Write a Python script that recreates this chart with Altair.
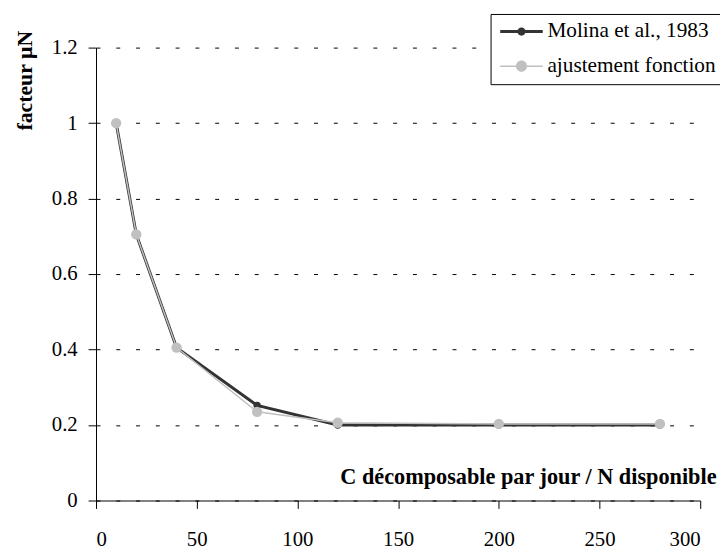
import altair as alt
import pandas as pd

# ---- data ----
x_vals = [10, 20, 40, 80, 120, 200, 280]
molina = [1.0, 0.705, 0.405, 0.252, 0.200, 0.200, 0.200]
fit = [1.0, 0.705, 0.405, 0.235, 0.206, 0.203, 0.203]
series_names = ["Molina et al., 1983", "ajustement fonction"]
series_colors = ["#333333", "#c0c0c0"]
x_ticks = [0, 50, 100, 150, 200, 250, 300]
y_ticks = [0, 0.2, 0.4, 0.6, 0.8, 1.0, 1.2]

rows = []
for xv, yv in zip(x_vals, molina):
    rows.append({"serie": series_names[0], "x": xv, "y": yv})
for xv, yv in zip(x_vals, fit):
    rows.append({"serie": series_names[1], "x": xv, "y": yv})
df = pd.DataFrame(rows)

FONT = "Liberation Serif"

# legend symbol: line segment with a dot, drawn as a filled path.
# symbolSize 400 -> 10 px per path unit, symbol slot centred at 10 px.
SYM_SIZE = 400


def legend_shape(line_half, dot_r):
    t = line_half
    r = dot_r
    a, b = -0.8, 3.5
    c = (a + b) / 2
    return (
        f"M{a},{-t}L{b},{-t}L{b},{t}L{a},{t}Z"
        f"M{c - r},0A{r},{r},0,1,1,{c + r},0A{r},{r},0,1,1,{c - r},0Z"
    )


shape_paths = [legend_shape(0.15, 0.42), legend_shape(0.075, 0.56)]

legend = alt.Legend(
    title=None,
    orient="none",
    legendX=399,
    legendY=-34,
    direction="vertical",
    fillColor="white",
    strokeColor="black",
    padding=7,
    labelFont=FONT,
    labelFontSize=21.5,
    labelColor="black",
    labelOffset=29,
    labelLimit=400,
    rowPadding=12,
    symbolSize=SYM_SIZE,
    symbolStrokeWidth=0,
    symbolOpacity=1,
)

color_leg = alt.Color(
    "serie:N",
    scale=alt.Scale(domain=series_names, range=series_colors),
    legend=legend,
)
shape_leg = alt.Shape(
    "serie:N",
    scale=alt.Scale(domain=series_names, range=shape_paths),
    legend=legend,
)
color_plain = alt.Color(
    "serie:N",
    scale=alt.Scale(domain=series_names, range=series_colors),
    legend=None,
)

x_enc = alt.X(
    "x:Q",
    scale=alt.Scale(domain=[0, 300], nice=False),
    axis=alt.Axis(
        values=x_ticks,
        grid=False,
        tickSize=8,
        labelPadding=21,
        labelFont=FONT,
        labelFontSize=21,
        labelColor="black",
        domainColor="black",
        tickColor="black",
        title="C décomposable par jour / N disponible",
        titleFont=FONT,
        titleFontSize=22.5,
        titleFontWeight="bold",
        titleColor="black",
        titleX=627,
        titleY=-17,
        titleAlign="right",
        titleBaseline="alphabetic",
    ),
)
y_enc = alt.Y(
    "y:Q",
    scale=alt.Scale(domain=[0, 1.2], nice=False),
    axis=alt.Axis(
        values=y_ticks,
        format=".1~f",
        grid=True,
        gridDash=[4, 16],
        gridColor="black",
        gridWidth=1,
        gridOpacity=1,
        tickSize=8,
        labelPadding=11,
        labelFont=FONT,
        labelFontSize=21,
        labelColor="black",
        domainColor="black",
        tickColor="black",
        title="facteur µN",
        titleFont=FONT,
        titleFontSize=22,
        titleFontWeight="bold",
        titleColor="black",
        titleAngle=270,
        titleX=-65,
        titleY=33,
        titleAlign="center",
        titleBaseline="alphabetic",
    ),
)

base = alt.Chart(df).encode(x=x_enc, y=y_enc, color=color_plain, order="x:Q")

m_line = base.transform_filter(alt.datum.serie == series_names[0]).mark_line(strokeWidth=3)
m_pts = base.transform_filter(alt.datum.serie == series_names[0]).mark_circle(size=55, opacity=1)
f_line = base.transform_filter(alt.datum.serie == series_names[1]).mark_line(strokeWidth=1.5)
f_pts = base.transform_filter(alt.datum.serie == series_names[1]).mark_circle(size=110, opacity=1)

# legend-only layer (draws no points, only supplies the legend)
leg_layer = (
    alt.Chart(df)
    .transform_filter(alt.datum.x < 0)
    .mark_point(filled=True, opacity=1)
    .encode(x=x_enc, y=y_enc, color=color_leg, shape=shape_leg)
)

chart = (
    alt.layer(m_line, m_pts, f_line, f_pts, leg_layer)
    .resolve_legend(color="independent", shape="independent")
    .properties(
        width=611,
        height=458,
        autosize=alt.AutoSizeParams(type="none"),
        padding={"left": 89, "top": 37, "right": 20, "bottom": 47},
        background="white",
    )
    .configure_view(stroke=None)
    .configure_legend(strokeWidth=1)
)

chart.save("out.html", embed_options={"renderer": "svg", "actions": False})
